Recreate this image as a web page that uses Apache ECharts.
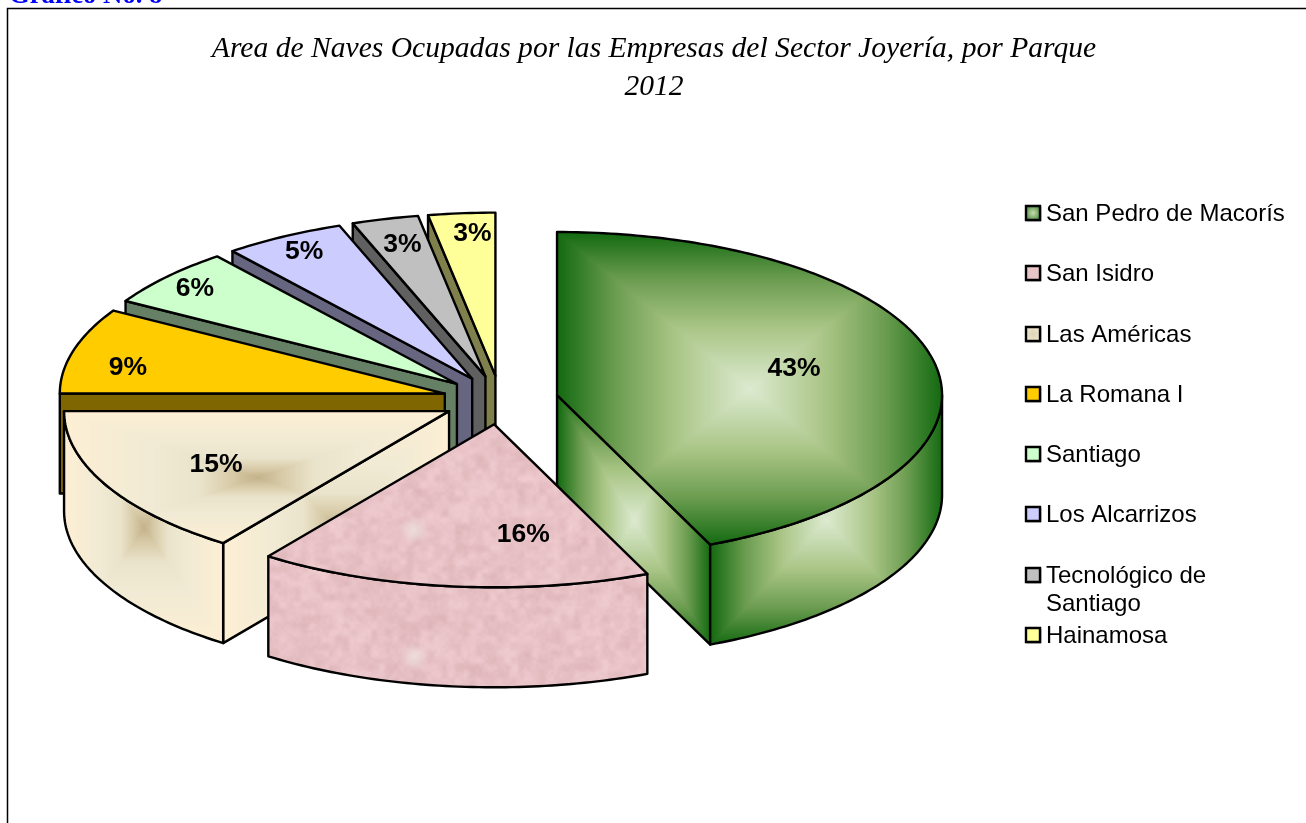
<!DOCTYPE html>
<html>
<head>
<meta charset="utf-8">
<title>Area de Naves</title>
<style>
  html, body { margin: 0; padding: 0; background: #fff; overflow: hidden; }
  #chart { width: 1306px; height: 823px; }
</style>
<script src="https://cdn.jsdelivr.net/npm/echarts@6/dist/echarts.min.js"></script>
</head>
<body>
<div id="chart"></div>
<script>
// data (percent of area)
var categories = ['San Pedro de Macorís', 'San Isidro', 'Las Américas', 'La Romana I', 'Santiago', 'Los Alcarrizos', 'Tecnológico de\nSantiago', 'Hainamosa'];
var values = [43.49, 16.49, 15.02, 8.5, 5.8, 5.1, 2.8, 2.8];

// styles
var topColors = [null, null, null, '#FFCC00', '#CCFFCC', '#CCCCFF', '#C0C0C0', '#FFFF99'];
var sideColors = [null, null, null, '#806600', '#668066', '#666680', '#606060', '#80804D'];
var swatchColors = [null, '#E8C6C8', null, '#FFCC00', '#CCFFCC', '#CCCCFF', '#C0C0C0', '#FFFF99'];
var drawOrder = [7, 6, 5, 4, 3, 2, 0, 1];

// layout
var W = 1306, H = 823;
var cx = 500.5, cy = 400, rx = 385, ry = 163, depth = 100, explode = 0.15;
var labelOffsets = [[237, -26], [29, 110], [-233, 54], [-317, -26], [-262, -95], [-168, -127], [-83, -132], [-23, -142]];
var legendX = 1026;
var legendRows = [213, 273, 334, 394, 454, 514, 575, 635];

var greenRamp = [[0, [220, 234, 208]], [0.4, [168, 196, 132]], [0.7, [107, 156, 80]], [1, [19, 106, 16]]];
var creamRamp = [[0, [196, 178, 138]], [0.12, [214, 201, 166]], [0.3, [235, 228, 204]], [0.55, [241, 234, 212]], [1, [253, 239, 212]]];

function rad(p) { return p / 100 * Math.PI * 2; }

function rampColor(ramp, t) {
  for (var i = 1; i < ramp.length; i++) {
    if (t <= ramp[i][0]) {
      var a = ramp[i - 1], b = ramp[i], f = (t - a[0]) / (b[0] - a[0]);
      return [a[1][0] + (b[1][0] - a[1][0]) * f, a[1][1] + (b[1][1] - a[1][1]) * f, a[1][2] + (b[1][2] - a[1][2]) * f];
    }
  }
  return ramp[ramp.length - 1][1];
}

function newCanvas() {
  var c = document.createElement('canvas');
  c.width = W; c.height = H;
  return c;
}

// rectangular path gradient over the bounding box of a face, as Excel fills it
function rectTexture(points, ramp) {
  var x0 = 1e9, x1 = -1e9, y0 = 1e9, y1 = -1e9;
  points.forEach(function (p) {
    x0 = Math.min(x0, p[0]); x1 = Math.max(x1, p[0]);
    y0 = Math.min(y0, p[1]); y1 = Math.max(y1, p[1]);
  });
  var c = newCanvas(), ctx = c.getContext('2d');
  var bx = Math.floor(x0), by = Math.floor(y0), bw = Math.ceil(x1 - x0) + 1, bh = Math.ceil(y1 - y0) + 1;
  var img = ctx.createImageData(bw, bh);
  var mx = (x0 + x1) / 2, my = (y0 + y1) / 2, hw = (x1 - x0) / 2, hh = (y1 - y0) / 2;
  for (var y = 0; y < bh; y++) {
    for (var x = 0; x < bw; x++) {
      var t = Math.min(1, Math.max(Math.abs(bx + x - mx) / hw, Math.abs(by + y - my) / hh));
      var col = rampColor(ramp, t), k = (y * bw + x) * 4;
      img.data[k] = col[0]; img.data[k + 1] = col[1]; img.data[k + 2] = col[2]; img.data[k + 3] = 255;
    }
  }
  ctx.putImageData(img, bx, by);
  return { image: c, repeat: 'no-repeat' };
}

// soft value noise for the pink stone, seeded by position only
function hash(x, y) {
  var s = Math.sin(x * 127.1 + y * 311.7) * 43758.5453;
  return s - Math.floor(s);
}
function smoothNoise(x, y) {
  var ix = Math.floor(x), iy = Math.floor(y), fx = x - ix, fy = y - iy;
  fx = fx * fx * (3 - 2 * fx); fy = fy * fy * (3 - 2 * fy);
  var a = hash(ix, iy) + (hash(ix + 1, iy) - hash(ix, iy)) * fx;
  var b = hash(ix, iy + 1) + (hash(ix + 1, iy + 1) - hash(ix, iy + 1)) * fx;
  return a + (b - a) * fy;
}
var stoneFill = null;
function stoneTexture() {
  if (stoneFill) { return stoneFill; }
  var c = newCanvas(), ctx = c.getContext('2d');
  var x0 = 255, y0 = 415, bw = 400, bh = 280;
  var img = ctx.createImageData(bw, bh);
  for (var y = 0; y < bh; y++) {
    for (var x = 0; x < bw; x++) {
      var n = smoothNoise(x / 16, y / 16) * 0.3 + smoothNoise(x / 7, y / 7) * 0.5 + smoothNoise(x / 3, y / 3) * 0.2 - 0.5;
      var k = (y * bw + x) * 4;
      img.data[k] = 231 + n * 24; img.data[k + 1] = 193 + n * 30; img.data[k + 2] = 197 + n * 30; img.data[k + 3] = 255;
    }
  }
  ctx.putImageData(img, x0, y0);
  [[414, 530], [414, 657]].forEach(function (s) {
    var g = ctx.createRadialGradient(s[0], s[1], 1, s[0], s[1], 14);
    g.addColorStop(0, 'rgba(236,224,218,0.8)');
    g.addColorStop(1, 'rgba(236,224,218,0)');
    ctx.fillStyle = g;
    ctx.fillRect(s[0] - 14, s[1] - 14, 28, 28);
  });
  stoneFill = { image: c, repeat: 'no-repeat' };
  return stoneFill;
}

function faceFill(i, points, fallback) {
  if (i === 0) { return rectTexture(points, greenRamp); }
  if (i === 1) { return stoneTexture(); }
  if (i === 2) { return rectTexture(points, creamRamp); }
  return fallback;
}

function arcPoints(ax, ay, a0, a1, dy) {
  var pts = [], n = Math.max(2, Math.ceil((a1 - a0) / (Math.PI / 180)));
  for (var k = 0; k <= n; k++) {
    var a = a0 + (a1 - a0) * k / n;
    pts.push([ax + rx * Math.sin(a), ay - ry * Math.cos(a) + dy]);
  }
  return pts;
}

function polygon(points, fill, z2) {
  return {
    type: 'polygon',
    z2: z2,
    shape: { points: points },
    style: { fill: fill, stroke: '#000', lineWidth: 2.4, lineJoin: 'round' }
  };
}

// filled once, the textures are costly
var sliceCache = {};

function buildSlice(i) {
  var before = 0;
  for (var j = 0; j < i; j++) { before += values[j]; }
  var a0 = rad(before), a1 = rad(before + values[i]), mid = (a0 + a1) / 2;
  var ax = cx + explode * rx * Math.sin(mid), ay = cy - explode * ry * Math.cos(mid);
  var z = drawOrder.indexOf(i) * 10;
  var children = [];

  function cutFace(a) {
    var px = ax + rx * Math.sin(a), py = ay - ry * Math.cos(a);
    var pts = [[ax, ay], [px, py], [px, py + depth], [ax, ay + depth]];
    children.push(polygon(pts, faceFill(i, pts, sideColors[i]), z));
  }
  if (Math.sin(a0) < -1e-6) { cutFace(a0); }
  if (Math.sin(a1) > 1e-6) { cutFace(a1); }

  // outer wall only on the front half
  var w0 = Math.max(a0, Math.PI / 2), w1 = Math.min(a1, Math.PI * 1.5);
  if (w1 > w0) {
    var wall = arcPoints(ax, ay, w0, w1, 0).concat(arcPoints(ax, ay, w0, w1, depth).reverse());
    children.push(polygon(wall, faceFill(i, wall, sideColors[i]), z + 1));
  }

  var topPts = [[ax, ay]].concat(arcPoints(ax, ay, a0, a1, 0));
  children.push(polygon(topPts, faceFill(i, topPts, topColors[i]), z + 2));

  children.push({
    type: 'text',
    z2: 1000,
    style: {
      x: ax + labelOffsets[i][0],
      y: ay + labelOffsets[i][1],
      text: Math.round(values[i]) + '%',
      fill: '#000',
      font: 'bold 26.5px "Liberation Sans", Arial, sans-serif',
      align: 'center',
      verticalAlign: 'middle'
    }
  });
  return { type: 'group', children: children };
}

function renderSlice(params) {
  var i = params.dataIndex;
  if (!sliceCache[i]) { sliceCache[i] = buildSlice(i); }
  return sliceCache[i];
}

function swatchFill(i) {
  if (i === 0) {
    return { type: 'radial', x: 0.5, y: 0.5, r: 0.65, colorStops: [{ offset: 0, color: '#C8DCB0' }, { offset: 1, color: '#2A7A20' }] };
  }
  if (i === 2) {
    return { type: 'radial', x: 0.5, y: 0.5, r: 0.65, colorStops: [{ offset: 0, color: '#DDD3B4' }, { offset: 1, color: '#F6EEDA' }] };
  }
  return swatchColors[i];
}

var legendItems = [];
categories.forEach(function (name, i) {
  var rowY = legendRows[i];
  legendItems.push({
    type: 'rect',
    shape: { x: legendX + 0.5, y: rowY - 6.5, width: 14.5, height: 14.5 },
    style: { fill: 'none', stroke: '#9a9a9a', lineWidth: 1 }
  });
  legendItems.push({
    type: 'rect',
    shape: { x: legendX, y: rowY - 7, width: 14, height: 14 },
    style: { fill: swatchFill(i), stroke: '#000', lineWidth: 2.4 }
  });
  legendItems.push({
    type: 'text',
    style: {
      x: legendX + 20,
      y: rowY - 12.5,
      text: name,
      fill: '#000',
      font: '24px "Liberation Sans", Arial, sans-serif',
      lineHeight: 28
    }
  });
});

var chart = echarts.init(document.getElementById('chart'));
chart.setOption({
  animation: false,
  backgroundColor: '#fff',
  title: {
    text: 'Area de Naves Ocupadas por las Empresas del Sector Joyería, por Parque\n2012',
    left: 649,
    top: 25,
    textAlign: 'center',
    textStyle: {
      fontFamily: '"Liberation Serif", "Times New Roman", serif',
      fontStyle: 'italic',
      fontWeight: 'normal',
      fontSize: 29.6,
      lineHeight: 38,
      color: '#000'
    }
  },
  graphic: [
    {
      type: 'rect',
      shape: { x: 7.5, y: 8.5, width: 1400, height: 900 },
      style: { fill: 'none', stroke: '#000', lineWidth: 1.5 },
      z: -1
    },
    {
      type: 'text',
      style: {
        x: 9,
        y: -17,
        text: 'Gráfico No. 8',
        fill: '#0000FF',
        font: 'bold 26.7px "Liberation Serif", "Times New Roman", serif'
      }
    }
  ].concat(legendItems),
  series: [{
    type: 'custom',
    coordinateSystem: 'none',
    silent: true,
    data: values,
    renderItem: renderSlice
  }]
});
</script>
</body>
</html>
